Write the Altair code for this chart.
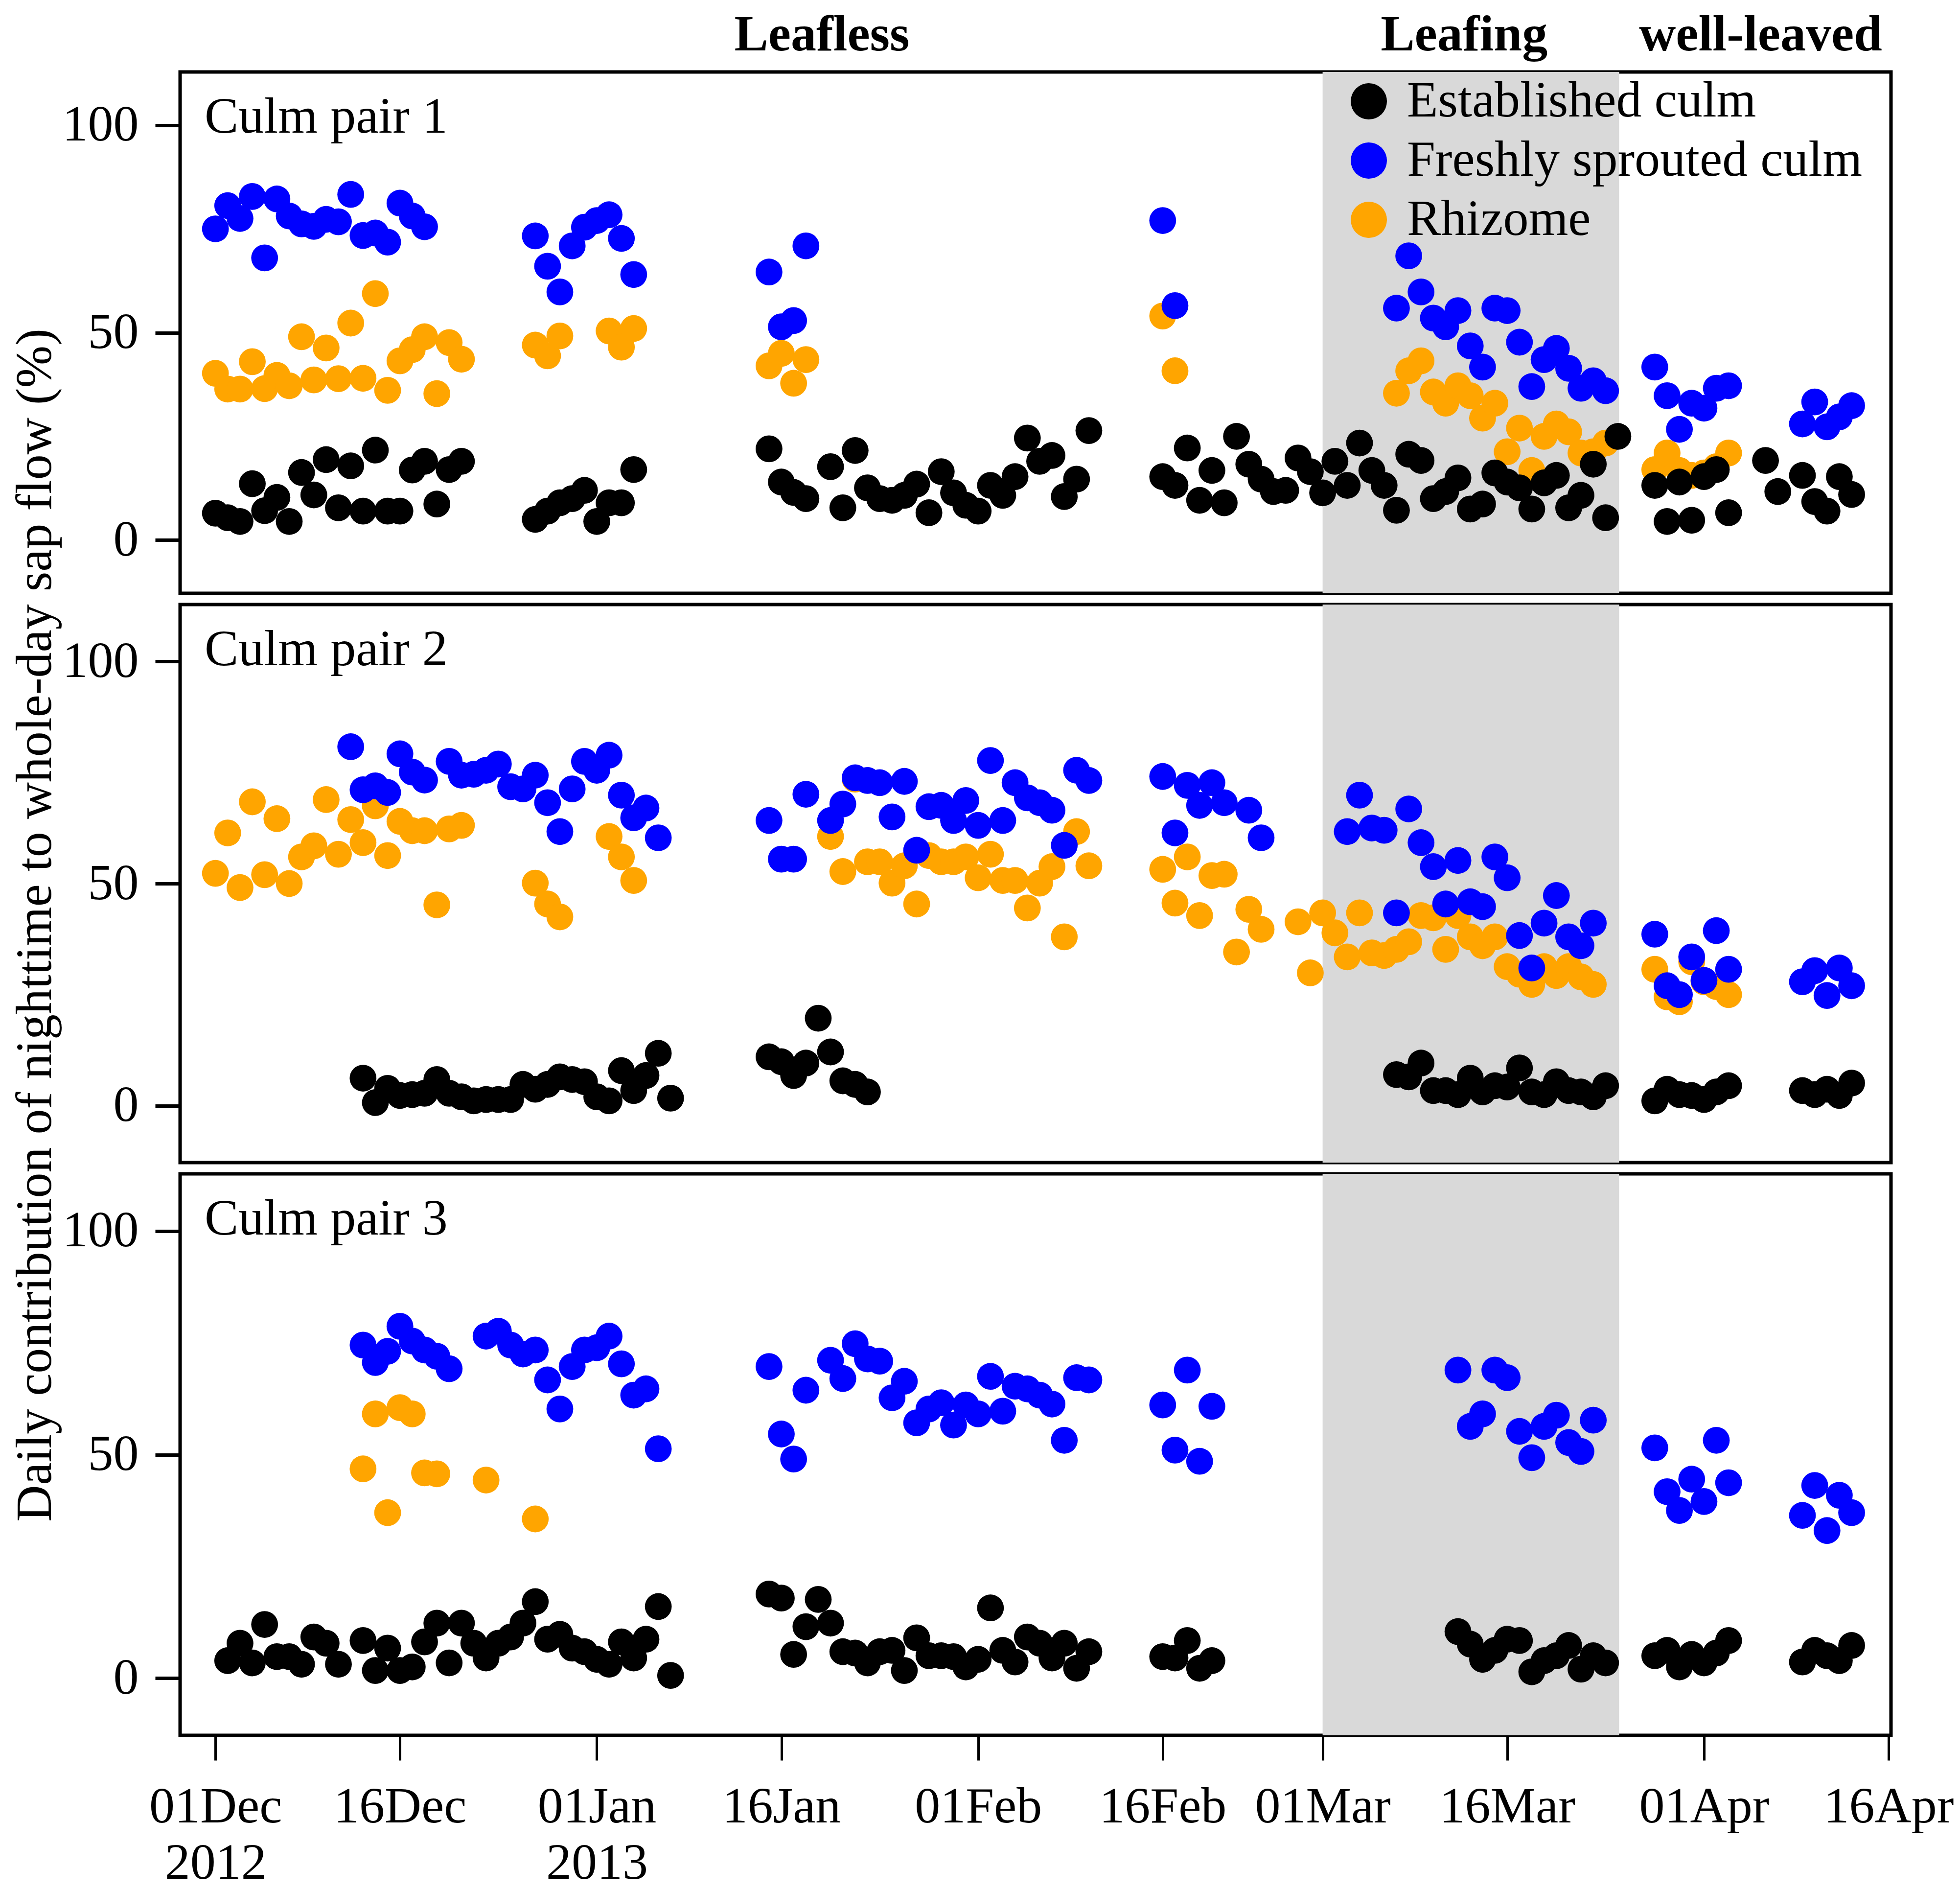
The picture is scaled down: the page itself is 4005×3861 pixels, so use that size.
import altair as alt
import pandas as pd

FONT = "Liberation Serif"
SERIES = ["Established culm", "Freshly sprouted culm", "Rhizome"]
COLORS = ["#000000", "#0000ff", "#ffa500"]

# x axis ticks (days since 01 Dec 2012)
tick_days = [0, 15, 31, 46, 62, 77, 90, 105, 121, 136]
tick_labels = ["01Dec\n2012", "16Dec", "01Jan\n2013", "16Jan", "01Feb", "16Feb",
               "01Mar", "16Mar", "01Apr", "16Apr"]

# phenological phases
phase_names = ["Leafless", "Leafing", "well-leaved"]
phase_label_days = [49.3, 101.5, 125.6]
leafing_start = [90]
leafing_end = [114.1]

panel_labels = ["Culm pair 1", "Culm pair 2", "Culm pair 3"]

# ---------------- Culm pair 1 ----------------
p1_est_day = [0, 1, 2, 3, 4, 5, 6, 7, 8, 9, 10, 11, 12, 13, 14, 15, 16, 17, 18, 19, 20,
              26, 27, 28, 29, 30, 31, 32, 33, 34,
              45, 46, 47, 48, 50, 51, 52, 53, 54, 55, 56, 57, 58, 59, 60, 61, 62, 63, 64, 65, 66, 67, 68, 69, 70, 71,
              77, 78, 79, 80, 81, 82, 83, 84, 85, 86, 87, 88, 89, 90, 91, 92, 93, 94, 95, 96, 97, 98, 99, 100,
              101, 102, 103, 104, 105, 106, 107, 108, 109, 110, 111, 112, 113, 114,
              117, 118, 119, 120, 121, 122, 123,
              126, 127, 129, 130, 131, 132, 133]
p1_est_val = [6.5, 5.4, 4.5, 13.6, 7.1, 10.3, 4.5, 16.3, 10.9, 19.4, 7.8, 17.9, 7.0, 21.7, 7.0, 7.0, 16.9, 19.0, 8.7, 17.0, 19.0,
              5.0, 7.0, 9.0, 10.0, 12.0, 4.5, 9.0, 9.0, 17.0,
              22.0, 14.0, 11.5, 10.0, 17.7, 7.8, 21.6, 12.6, 10.0, 9.6, 10.8, 13.5, 6.6, 16.5, 11.4, 8.4, 7.0, 13.2, 10.8, 15.3, 24.6, 19.0, 20.4, 10.5, 14.7, 26.4,
              15.3, 13.2, 22.2, 9.6, 16.8, 9.0, 25.0, 18.3, 14.7, 11.7, 12.0, 19.8, 16.5, 11.4, 19.0, 13.2, 23.4, 16.8, 13.2, 7.2, 20.7, 19.2, 10.0, 11.7,
              15.0, 7.5, 8.7, 16.2, 14.0, 12.6, 7.5, 13.8, 15.6, 7.8, 10.8, 18.3, 5.4, 25.0,
              13.2, 4.5, 14.0, 4.8, 15.3, 17.0, 6.6,
              19.2, 11.7, 15.6, 9.3, 7.0, 15.3, 11.0]
p1_fre_day = [0, 1, 2, 3, 4, 5, 6, 7, 8, 9, 10, 11, 12, 13, 14, 15, 16, 17,
              26, 27, 28, 29, 30, 31, 32, 33, 34,
              45, 46, 47, 48,
              77, 78,
              96, 97, 98, 99, 100, 101, 102, 103, 104, 105, 106, 107, 108, 109, 110, 111, 112, 113,
              117, 118, 119, 120, 121, 122, 123,
              129, 130, 131, 132, 133]
p1_fre_val = [75.0, 80.6, 77.5, 82.8, 68.0, 82.2, 78.1, 76.2, 75.6, 77.3, 76.7, 83.3, 73.4, 74.0, 71.8, 81.2, 78.1, 75.5,
              73.3, 66.0, 59.8, 70.9, 75.4, 77.0, 78.4, 72.7, 64.0,
              64.6, 51.4, 52.9, 70.9,
              77.0, 56.5,
              55.9, 68.5, 59.8, 53.5, 51.4, 55.3, 46.8, 41.7, 55.9, 55.3, 47.7, 37.0, 43.5, 46.2, 41.4, 36.6, 38.4, 36.0,
              41.7, 34.8, 26.7, 33.0, 31.8, 36.6, 37.2,
              28.0, 33.3, 27.3, 29.7, 32.4]
p1_rhi_day = [0, 1, 2, 3, 4, 5, 6, 7, 8, 9, 10, 11, 12, 13, 14, 15, 16, 17, 18, 19, 20,
              26, 27, 28, 32, 33, 34,
              45, 46, 47, 48,
              77, 78,
              96, 97, 98, 99, 100, 101, 102, 103, 104, 105, 106, 107, 108, 109, 110, 111, 112, 113,
              117, 118, 119, 120, 121, 122, 123]
p1_rhi_val = [40.2, 36.4, 36.4, 43.0, 36.5, 39.7, 37.2, 49.0, 38.6, 46.3, 38.9, 52.3, 39.0, 59.4, 36.1, 43.2, 45.9, 49.0, 35.3, 47.6, 43.6,
              47.0, 44.4, 49.2, 50.4, 46.5, 51.0,
              42.0, 45.0, 37.8, 43.5,
              54.0, 40.8,
              35.4, 40.8, 43.2, 35.7, 33.0, 37.2, 34.8, 29.4, 33.0, 21.3, 27.0, 16.8, 25.0, 28.0, 26.1, 21.0, 21.3, 23.4,
              17.0, 21.0, 16.8, 15.6, 16.2, 17.7, 21.0]

# ---------------- Culm pair 2 ----------------
p2_est_day = [12, 13, 14, 15, 16, 17, 18, 19, 20, 21, 22, 23, 24, 25, 26, 27, 28, 29, 30, 31, 32, 33, 34, 35, 36, 37,
              45, 46, 47, 48, 49, 50, 51, 52, 53,
              96, 97, 98, 99, 100, 101, 102, 103, 104, 105, 106, 107, 108, 109, 110, 111, 112, 113,
              117, 118, 119, 120, 121, 122, 123,
              129, 130, 131, 132, 133]
p2_est_val = [6.2, 0.7, 3.9, 2.3, 2.5, 2.8, 5.9, 2.8, 2.0, 1.1, 1.4, 1.4, 1.4, 4.8, 3.7, 4.8, 6.5, 5.9, 5.4, 2.0, 1.1, 7.9, 3.4, 6.8, 11.8, 1.7,
              11.0, 9.9, 6.8, 9.6, 19.7, 12.1, 5.6, 4.8, 3.1,
              7.0, 6.5, 9.6, 3.4, 3.4, 2.5, 6.2, 3.1, 4.5, 4.2, 8.5, 3.1, 2.5, 5.4, 3.4, 3.1, 2.0, 4.5,
              1.1, 3.7, 2.5, 2.3, 1.4, 3.1, 4.5,
              3.4, 2.5, 3.7, 2.3, 5.1]
p2_fre_day = [11, 12, 13, 14, 15, 16, 17, 19, 20, 21, 22, 23, 24, 25, 26, 27, 28, 29, 30, 31, 32, 33, 34, 35, 36,
              45, 46, 47, 48,
              50, 51, 52, 53, 54, 55, 56, 57, 58, 59, 60, 61, 62, 63, 64, 65, 66, 67, 68, 69, 70, 71,
              77, 78, 79, 80, 81, 82, 84, 85,
              92, 93, 94, 95, 96, 97, 98, 99, 100, 101, 102, 103, 104, 105, 106, 107, 108, 109, 110, 111, 112,
              117, 118, 119, 120, 121, 122, 123,
              129, 130, 131, 132, 133]
p2_fre_val = [80.8, 71.1, 72.0, 70.5, 79.2, 75.1, 73.3, 77.5, 74.4, 74.6, 75.5, 76.9, 71.8, 71.3, 74.4, 68.2, 61.7, 71.3, 77.5, 75.5, 78.9, 69.9, 64.8, 67.0, 60.3,
              64.2, 55.5, 55.5, 70.1,
              64.2, 67.9, 73.8, 73.2, 72.7, 65.0, 73.0, 57.5, 67.3, 67.6, 64.2, 68.7, 63.1, 77.7, 64.2, 72.7, 69.3, 68.2, 66.5, 58.6, 75.5, 73.2,
              74.1, 61.4, 72.1, 67.6, 72.7, 68.2, 66.5, 60.3,
              61.7, 69.9, 62.5, 62.0, 43.4, 66.8, 59.2, 53.8, 45.4, 55.2, 45.9, 44.8, 56.0, 51.3, 38.3, 31.0, 41.1, 47.3, 38.0, 36.0, 41.1,
              38.6, 27.0, 25.0, 33.5, 28.2, 39.4, 30.7,
              27.9, 30.4, 24.8, 31.0, 27.0]
p2_rhi_day = [0, 1, 2, 3, 4, 5, 6, 7, 8, 9, 10, 11, 12, 13, 14, 15, 16, 17, 18, 19, 20,
              26, 27, 28, 32, 33, 34,
              50, 51, 52, 53, 54, 55, 56, 57, 58, 59, 60, 61, 62, 63, 64, 65, 66, 67, 68, 69, 70, 71,
              77, 78, 79, 80, 81, 82, 83, 84, 85,
              88, 89, 90, 91, 92, 93, 94, 95, 96, 97, 98, 99, 100, 101, 102, 103, 104, 105, 106, 107, 108, 109, 110, 111, 112,
              117, 118, 119, 120, 121, 122, 123]
p2_rhi_val = [52.3, 61.4, 49.1, 68.4, 52.0, 64.6, 50.0, 56.0, 58.5, 68.9, 56.6, 64.4, 59.2, 67.5, 56.3, 64.0, 61.9, 61.9, 45.2, 62.3, 63.1,
              50.1, 45.4, 42.5, 60.6, 56.0, 50.7,
              60.6, 52.7, 73.5, 54.9, 54.9, 50.1, 54.0, 45.4, 56.3, 54.9, 54.9, 56.0, 51.3, 56.6, 50.7, 50.7, 44.5, 50.1, 53.8, 38.0, 61.7, 54.0,
              53.2, 45.6, 56.0, 42.8, 51.8, 52.1, 34.6, 44.2, 39.7,
              41.4, 29.9, 43.4, 38.9, 33.5, 43.4, 34.4, 33.8, 35.2, 36.9, 42.8, 42.3, 35.2, 42.8, 38.0, 36.0, 38.0, 31.3, 29.6, 27.3, 31.3, 29.3, 31.3, 29.0, 27.3,
              30.7, 24.5, 23.4, 32.4, 27.9, 26.8, 25.0]

# ---------------- Culm pair 3 ----------------
p3_est_day = [1, 2, 3, 4, 5, 6, 7, 8, 9, 10,
              12, 13, 14, 15, 16, 17, 18, 19, 20, 21, 22, 23, 24, 25, 26, 27, 28, 29, 30, 31, 32, 33, 34, 35, 36, 37,
              45, 46, 47, 48, 49, 50, 51, 52, 53, 54, 55, 56, 57, 58, 59, 60, 61, 62, 63, 64, 65, 66, 67, 68, 69, 70, 71,
              77, 78, 79, 80, 81,
              101, 102, 103, 104, 105, 106, 107, 108, 109, 110, 111, 112, 113,
              117, 118, 119, 120, 121, 122, 123,
              129, 130, 131, 132, 133]
p3_est_val = [3.9, 7.8, 3.4, 12.0, 4.8, 4.8, 3.1, 9.2, 7.8, 3.1,
              8.4, 1.7, 6.7, 1.7, 2.5, 8.1, 12.3, 3.4, 12.3, 7.8, 4.5, 7.8, 9.2, 12.3, 17.1, 8.7, 9.8, 6.7, 5.9, 4.2, 3.1, 8.1, 4.5, 8.7, 16.0, 0.6,
              18.8, 17.9, 5.3, 11.5, 17.6, 12.3, 5.9, 5.6, 3.4, 5.9, 6.2, 1.7, 9.0, 5.0, 5.0, 4.8, 2.5, 4.2, 15.7, 6.2, 3.6, 9.2, 7.8, 4.5, 7.8, 2.2, 5.9,
              4.8, 4.5, 8.4, 2.2, 3.9,
              10.4, 7.6, 4.2, 6.2, 8.7, 8.4, 1.4, 3.9, 5.0, 7.3, 2.0, 5.0, 3.4,
              5.0, 6.2, 2.5, 5.3, 3.4, 5.6, 8.4,
              3.6, 6.2, 5.0, 3.9, 7.3]
p3_fre_day = [12, 13, 14, 15, 16, 17, 18, 19,
              22, 23, 24, 25, 26, 27, 28, 29, 30, 31, 32, 33, 34, 35, 36,
              45, 46, 47, 48,
              50, 51, 52, 53, 54, 55, 56, 57, 58, 59, 60, 61, 62, 63, 64, 65, 66, 67, 68, 69, 70, 71,
              77, 78, 79, 80, 81,
              101, 102, 103, 104, 105, 106, 107, 108, 109, 110, 111, 112,
              117, 118, 119, 120, 121, 122, 123,
              129, 130, 131, 132, 133]
p3_fre_val = [74.5, 70.6, 73.1, 78.7, 75.4, 73.4, 72.0, 69.2,
              76.5, 77.6, 74.5, 72.5, 73.4, 66.7, 60.2, 69.7, 73.4, 73.9, 76.5, 70.3, 63.3, 64.7, 51.3,
              69.7, 54.6, 49.0, 64.4,
              71.1, 67.0, 74.8, 71.4, 70.9, 62.7, 66.4, 57.1, 60.2, 61.6, 56.6, 61.1, 59.1, 67.5, 59.7, 65.3, 64.7, 63.3, 61.3, 53.2, 67.2, 66.7,
              61.1, 51.0, 68.9, 48.5, 60.8,
              68.9, 56.3, 59.1, 68.9, 67.2, 55.2, 49.3, 56.3, 58.8, 52.7, 50.7, 57.7,
              51.5, 41.7, 37.5, 44.5, 39.5, 53.2, 43.7,
              36.4, 43.1, 33.0, 40.9, 37.0]
p3_rhi_day = [12, 13, 14, 15, 16, 17, 18, 22, 26]
p3_rhi_val = [46.8, 59.1, 37.0, 60.5, 59.1, 45.9, 45.7, 44.3, 35.6]

# ---------------- layout (pixels) ----------------
W = 3496
HEIGHTS = [1065, 1140, 1147]
X_DOMAIN = [-2.87, 136.2]
Y_DOMAIN = [-12.8, 112.8]


def panel_df(est_d, est_v, fre_d, fre_v, rhi_d, rhi_v):
    rows = []
    # drawing order: rhizome first, established culm last (on top)
    for name, ds, vs in [("Rhizome", rhi_d, rhi_v),
                         ("Freshly sprouted culm", fre_d, fre_v),
                         ("Established culm", est_d, est_v)]:
        for d, v in zip(ds, vs):
            rows.append({"day": d, "value": v, "series": name})
    return pd.DataFrame(rows)


panels = [
    panel_df(p1_est_day, p1_est_val, p1_fre_day, p1_fre_val, p1_rhi_day, p1_rhi_val),
    panel_df(p2_est_day, p2_est_val, p2_fre_day, p2_fre_val, p2_rhi_day, p2_rhi_val),
    panel_df(p3_est_day, p3_est_val, p3_fre_day, p3_fre_val, p3_rhi_day, p3_rhi_val),
]

# multi-line tick labels
parts = []
for d, lab in zip(tick_days, tick_labels):
    arr = "[" + ",".join("'%s'" % s for s in lab.split("\n")) + "]"
    parts.append("datum.value == %s ? %s : " % (d, arr))
label_expr = "".join(parts) + "''"

x_scale = alt.Scale(domain=X_DOMAIN, nice=False, zero=False)
y_scale = alt.Scale(domain=Y_DOMAIN, nice=False, zero=False)

x_axis_bottom = alt.Axis(values=tick_days, labelExpr=label_expr, title=None, grid=False,
                         domain=False, tickSize=51, tickWidth=5, tickColor="black",
                         labelFont=FONT, labelFontSize=104, labelColor="black",
                         labelPadding=44, labelLineHeight=115, labelOverlap=False,
                         labelFlush=False, labelBound=False, labelAlign="center",
                         labelBaseline="top", labelLimit=2000)
y_axis = alt.Axis(values=[0, 50, 100], title=None, grid=False, domain=False,
                  tickSize=51, tickWidth=7, tickColor="black",
                  labelFont=FONT, labelFontSize=104, labelColor="black", labelPadding=34)

shade_df = pd.DataFrame({"start": leafing_start, "end": leafing_end})
phase_df = pd.DataFrame({"day": phase_label_days, "name": phase_names})


def make_panel(i):
    H = HEIGHTS[i]
    show_x = (i == 2)
    xaxis = x_axis_bottom if show_x else None

    shade = alt.Chart(shade_df).mark_rect(color="#d9d9d9").encode(
        x=alt.X("start:Q", scale=x_scale, axis=xaxis),
        x2="end:Q",
        y=alt.value(0),
        y2=alt.value(H),
    )

    if i == 0:
        legend = alt.Legend(orient="none", legendX=2377, legendY=8, title=None,
                            symbolType="circle", symbolSize=5476, symbolStrokeWidth=0,
                            symbolOpacity=1, labelFont=FONT, labelFontSize=104,
                            labelColor="black", labelOffset=26, rowPadding=17,
                            padding=0, labelLimit=3000, direction="vertical")
    else:
        legend = None

    pts = alt.Chart(panels[i]).mark_circle(size=3000, opacity=1).encode(
        x=alt.X("day:Q", scale=x_scale, axis=xaxis),
        y=alt.Y("value:Q", scale=y_scale, axis=y_axis),
        color=alt.Color("series:N", scale=alt.Scale(domain=SERIES, range=COLORS),
                        legend=legend),
    )

    lab = alt.Chart(pd.DataFrame({"t": [panel_labels[i]]})).mark_text(
        font=FONT, fontSize=104, align="left", baseline="alphabetic", color="black"
    ).encode(x=alt.value(50), y=alt.value(124), text="t:N")

    layers = [shade, pts, lab]

    if i == 0:
        top = alt.Chart(phase_df).mark_text(
            font=FONT, fontSize=104, fontWeight="bold", align="center",
            baseline="alphabetic", color="black"
        ).encode(x=alt.X("day:Q", scale=x_scale, axis=xaxis), y=alt.value(-44), text="name:N")
        layers.append(top)

    if i == 1:
        ytitle = alt.Chart(pd.DataFrame({
            "t": ["Daily contribution of nighttime to whole-day sap flow (%)"]
        })).mark_text(font=FONT, fontSize=104, angle=270, align="center",
                      baseline="alphabetic", color="black").encode(
            x=alt.value(-264), y=alt.value(655), text="t:N")
        layers.append(ytitle)

    return alt.layer(*layers).properties(width=W, height=H)


chart = alt.vconcat(*[make_panel(i) for i in range(3)], spacing=23, bounds="flush").resolve_scale(
    color="independent").resolve_legend(color="independent").properties(
    padding={"left": 9, "top": 8, "right": 0, "bottom": 0},
    background="white",
).configure(font=FONT).configure_view(stroke="black", strokeWidth=7)

chart.save("out.html", embed_options={"renderer": "svg", "actions": False})
